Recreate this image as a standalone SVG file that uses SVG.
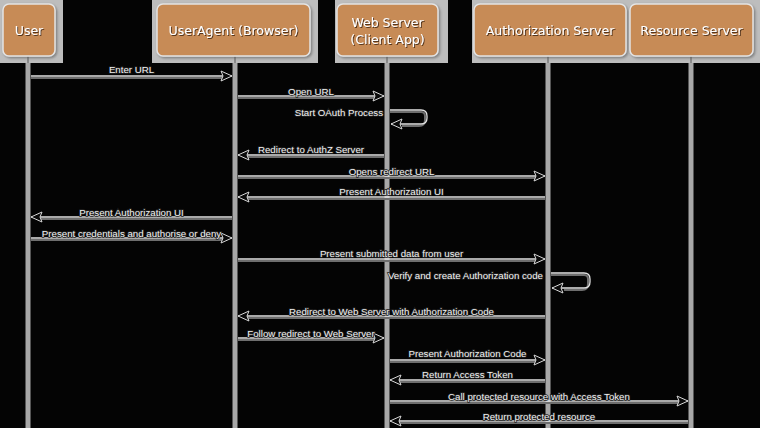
<svg xmlns="http://www.w3.org/2000/svg" width="760" height="428" viewBox="0 0 760 428">
<defs>
<style>
.panel{fill:#bdbdbd}
.box{fill:#c78b57;stroke:#e4e4e4;stroke-width:1.5;filter:url(#bs)}
.hdr{font-family:"DejaVu Sans",Verdana,sans-serif;font-size:12.5px;fill:#ffffff;text-anchor:middle;filter:url(#ts)}
.life{stroke:#a8a8a8;stroke-width:5;fill:none}
.stub{stroke:#7a7a7a;stroke-width:1.5}
.msg{stroke:#e2e2e2;stroke-width:1.3;fill:none;marker-end:url(#ah)}
.sh{stroke:#6e6e6e;stroke-width:2;fill:none}
.lbl{font-family:"Liberation Sans",Arial,sans-serif;font-size:9.7px;fill:#f2f2f2;text-anchor:middle;stroke:#202020;stroke-width:1.6px;paint-order:stroke}
.lr{text-anchor:end}
</style>
<marker id="ah" markerUnits="userSpaceOnUse" markerWidth="14" markerHeight="13" refX="11" refY="5" orient="auto" overflow="visible">
<path d="M0,0 L11,5 L0,10 L2,5 Z" fill="#0a0a0a" stroke="#d8d8d8" stroke-width="1"/>
</marker>
<filter id="bs" x="-10%" y="-10%" width="130%" height="130%">
<feDropShadow dx="1.5" dy="1.5" stdDeviation="1" flood-color="#555" flood-opacity="0.6"/>
</filter>
<filter id="ts" x="-10%" y="-20%" width="130%" height="150%">
<feDropShadow dx="1" dy="1" stdDeviation="0.6" flood-color="#4a2e14" flood-opacity="0.9"/>
</filter>
</defs>
<rect width="760" height="428" fill="#040404"/>
<g id="panels">
<rect class="panel" x="0" y="0" width="63" height="63"/>
<rect class="panel" x="152" y="0" width="166" height="63"/>
<rect class="panel" x="335" y="0" width="113" height="63"/>
<rect class="panel" x="472" y="0" width="288" height="63"/>
</g>
<g id="lifelines">
<line class="stub" x1="28" y1="56" x2="28" y2="63"/>
<line class="stub" x1="235" y1="56" x2="235" y2="63"/>
<line class="stub" x1="387" y1="56" x2="387" y2="63"/>
<line class="stub" x1="548" y1="56" x2="548" y2="63"/>
<line class="stub" x1="691" y1="56" x2="691" y2="63"/>
<line class="life" x1="28" y1="63" x2="28" y2="428"/>
<line class="life" x1="235" y1="63" x2="235" y2="428"/>
<line class="life" x1="387" y1="63" x2="387" y2="428"/>
<line class="life" x1="548" y1="63" x2="548" y2="428"/>
<line class="life" x1="691" y1="63" x2="691" y2="428"/>
</g>
<g id="user">
<rect class="box" x="3" y="4" width="52" height="52" rx="6"/>
<text class="hdr" x="29" y="35">User</text>
</g>
<g id="useragent">
<rect class="box" x="157" y="4" width="153" height="52" rx="6"/>
<text class="hdr" x="233.5" y="35">UserAgent (Browser)</text>
</g>
<g id="webserver">
<rect class="box" x="337" y="4" width="101" height="52" rx="6"/>
<text class="hdr" x="387.5" y="27">Web Server</text>
<text class="hdr" x="387.5" y="44">(Client App)</text>
</g>
<g id="authserver">
<rect class="box" x="474" y="4" width="152" height="52" rx="6"/>
<text class="hdr" x="550" y="35">Authorization Server</text>
</g>
<g id="resourceserver">
<rect class="box" x="630" y="4" width="123" height="52" rx="6"/>
<text class="hdr" x="691.5" y="35">Resource Server</text>
</g>
<g id="connectors">
<line class="sh" x1="31" y1="78" x2="222" y2="78"/>
<line class="msg" x1="31" y1="76" x2="232" y2="76"/>
<text class="lbl" x="131.5" y="72.5">Enter URL</text>

<line class="sh" x1="238" y1="98" x2="374" y2="98"/>
<line class="msg" x1="238" y1="96" x2="384" y2="96"/>
<text class="lbl" x="311" y="94.5">Open URL</text>

<path class="sh" d="M390,112 H421 Q425,112 425,116 V120 Q425,126 419,126 H402"/>
<path class="msg" d="M390,110 H421 Q427,110 427,116 V118 Q427,124 421,124 H391"/>
<text class="lbl lr" x="383" y="115.5">Start OAuth Process</text>

<line class="sh" x1="384" y1="157" x2="248" y2="157"/>
<line class="msg" x1="384" y1="155" x2="238" y2="155"/>
<text class="lbl" x="311" y="152.5">Redirect to AuthZ Server</text>

<line class="sh" x1="238" y1="178" x2="535" y2="178"/>
<line class="msg" x1="238" y1="176" x2="545" y2="176"/>
<text class="lbl" x="391.5" y="174.5">Opens redirect URL</text>

<line class="sh" x1="545" y1="199" x2="248" y2="199"/>
<line class="msg" x1="545" y1="197" x2="238" y2="197"/>
<text class="lbl" x="391.5" y="194.5">Present Authorization UI</text>

<line class="sh" x1="232" y1="219" x2="41" y2="219"/>
<line class="msg" x1="232" y1="217" x2="31" y2="217"/>
<text class="lbl" x="131.5" y="215.5">Present Authorization UI</text>

<line class="sh" x1="31" y1="240" x2="222" y2="240"/>
<line class="msg" x1="31" y1="238" x2="232" y2="238"/>
<text class="lbl" x="131.5" y="236.5">Present credentials and authorise or deny</text>

<line class="sh" x1="238" y1="261" x2="535" y2="261"/>
<line class="msg" x1="238" y1="259" x2="545" y2="259"/>
<text class="lbl" x="391.5" y="256.5">Present submitted data from user</text>

<path class="sh" d="M551,275 H584 Q588,275 588,279 V284 Q588,290 582,290 H564"/>
<path class="msg" d="M551,273 H584 Q590,273 590,279 V282 Q590,288 584,288 H552"/>
<text class="lbl lr" x="543" y="278.5">Verify and create Authorization code</text>

<line class="sh" x1="545" y1="318" x2="248" y2="318"/>
<line class="msg" x1="545" y1="316" x2="238" y2="316"/>
<text class="lbl" x="391.5" y="314.5">Redirect to Web Server with Authorization Code</text>

<line class="sh" x1="238" y1="340" x2="374" y2="340"/>
<line class="msg" x1="238" y1="338" x2="384" y2="338"/>
<text class="lbl" x="311" y="336.5">Follow redirect to Web Server</text>

<line class="sh" x1="390" y1="362" x2="535" y2="362"/>
<line class="msg" x1="390" y1="360" x2="545" y2="360"/>
<text class="lbl" x="467.5" y="356.5">Present Authorization Code</text>

<line class="sh" x1="545" y1="382" x2="400" y2="382"/>
<line class="msg" x1="545" y1="380" x2="390" y2="380"/>
<text class="lbl" x="467.5" y="377.5">Return Access Token</text>

<line class="sh" x1="390" y1="403" x2="678" y2="403"/>
<line class="msg" x1="390" y1="401" x2="688" y2="401"/>
<text class="lbl" x="539" y="399.5">Call protected resource with Access Token</text>

<line class="sh" x1="688" y1="423" x2="400" y2="423"/>
<line class="msg" x1="688" y1="421" x2="390" y2="421"/>
<text class="lbl" x="539" y="419.5">Return protected resource</text>
</g>
</svg>
